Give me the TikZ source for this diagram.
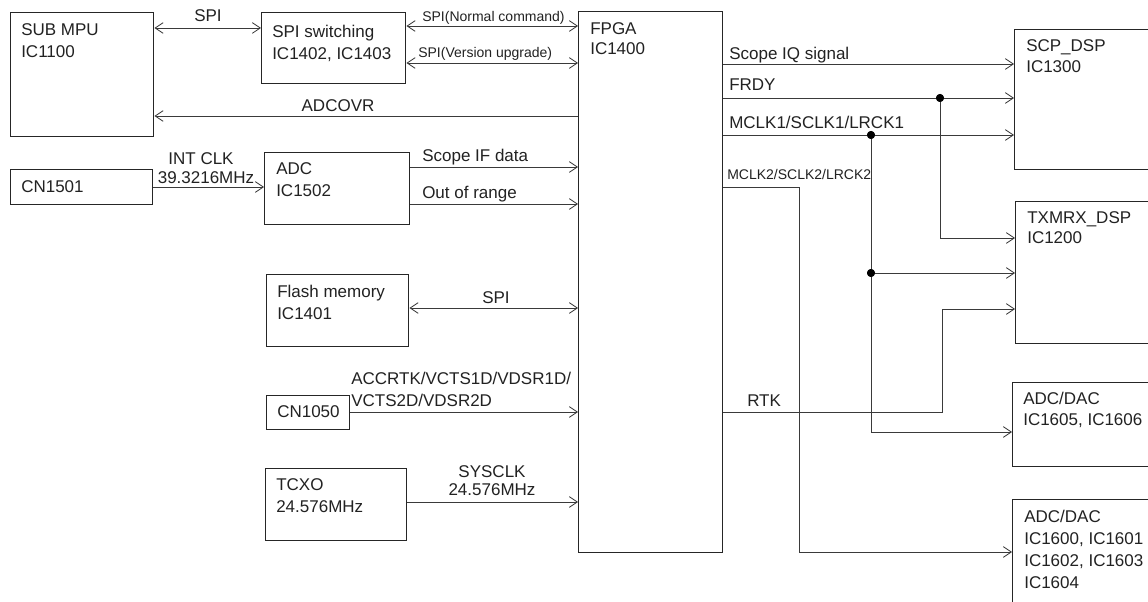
\documentclass[tikz,border=0pt]{standalone}
\usepackage{fontspec}
\setmainfont{Liberation Sans}
\usetikzlibrary{arrows.meta}
\definecolor{ink}{HTML}{222222}
\definecolor{wirec}{HTML}{3A3A3A}
\begin{document}
\begin{tikzpicture}[x=0.75pt,y=-0.75pt,
 box/.style={draw=black!85, line width=1.1pt, rectangle, inner sep=0pt, anchor=north west},
 txt/.style={text=ink, inner sep=0pt, font=\fontsize{12.75}{16.5}\selectfont, align=left, anchor=north west},
 lbl/.style={text=ink, inner sep=0pt, font=\fontsize{12.75}{16.5}\selectfont},
 sml/.style={text=ink, inner sep=0pt, font=\fontsize{10.5}{13}\selectfont},
 wire/.style={draw=wirec, line width=0.6pt},
 sarrow/.style={wire, -{Straight Barb[length=6pt,width=8pt]}},
 barrow/.style={wire, {Straight Barb[length=6pt,width=8pt]}-{Straight Barb[length=6pt,width=8pt]}},
 dot/.style={circle, fill=black, inner sep=0pt, minimum size=6pt}]
\fill[white] (0,0) rectangle (1148,602);
\useasboundingbox (0,0) rectangle (1148,602);
\clip (0,0) rectangle (1148,602);

% boxes
\node[box, minimum width=107.25pt, minimum height=93pt] (mpu) at (10,12) {};
\node[box, minimum width=108pt, minimum height=53.25pt] (spisw) at (261,12) {};
\node[box, minimum width=108pt, minimum height=405.75pt] (fpga) at (578,11) {};
\node[box, minimum width=106.5pt, minimum height=26.25pt] (cn1501) at (10,169) {};
\node[box, minimum width=108.75pt, minimum height=54pt] (adc) at (264,152) {};
\node[box, minimum width=106.5pt, minimum height=54pt] (flash) at (266,274) {};
\node[box, minimum width=62.25pt, minimum height=25.5pt] (cn1050) at (266,395) {};
\node[box, minimum width=105.75pt, minimum height=54pt] (tcxo) at (265,468) {};
\node[box, minimum width=150pt, minimum height=105pt] (scp) at (1014,29) {};
\node[box, minimum width=150pt, minimum height=106.5pt] (txmrx) at (1015,201) {};
\node[box, minimum width=150pt, minimum height=63pt] (adcdac1) at (1012,382) {};
\node[box, minimum width=150pt, minimum height=150pt] (adcdac2) at (1012,499) {};

% box texts
\node[txt] (mpuT) at (21,23) {SUB MPU\\IC1100};
\node[txt] (spiswT) at (272,25) {SPI switching\\IC1402, IC1403};
\node[txt, font=\fontsize{12.75}{15}\selectfont] (fpgaT) at (590,22) {FPGA\\IC1400};
\node[txt] (cn1501T) at (21,180) {CN1501};
\node[txt] (adcT) at (276,162) {ADC\\IC1502};
\node[txt] (flashT) at (277,285) {Flash memory\\IC1401};
\node[txt] (cn1050T) at (277,405) {CN1050};
\node[txt] (tcxoT) at (276,478) {TCXO\\24.576MHz};
\node[txt, font=\fontsize{12.75}{15.75}\selectfont] (scpT) at (1026,39) {SCP\_DSP\\IC1300};
\node[txt, font=\fontsize{12.75}{15}\selectfont] (txmrxT) at (1027,211) {TXMRX\_DSP\\IC1200};
\node[txt, font=\fontsize{12.75}{15.75}\selectfont] (adcdac1T) at (1023,392) {ADC/DAC\\IC1605, IC1606};
\node[txt] (adcdac2T) at (1024,510) {ADC/DAC\\IC1600, IC1601\\IC1602, IC1603\\IC1604};

% y levels
\coordinate (ySPI) at (0,28);
\coordinate (yNorm) at (0,26);
\coordinate (yVer) at (0,63);
\coordinate (yADCOVR) at (0,116);
\coordinate (yINT) at (0,187);
\coordinate (ySIF) at (0,167);
\coordinate (yOOR) at (0,204);
\coordinate (yFSPI) at (0,308);
\coordinate (yACC) at (0,412);
\coordinate (ySYS) at (0,502);
\coordinate (yIQ) at (0,64);
\coordinate (yFRDY) at (0,98);
\coordinate (yM1) at (0,135);
\coordinate (yFRDYb) at (0,238);
\coordinate (yM1b) at (0,432);
\coordinate (yM2b) at (0,552);
\coordinate (yRTKb) at (0,309);
\coordinate (m2) at (799,187);
\coordinate (rtk) at (942,412);

% left side connectors
\draw[barrow] (mpu.east |- ySPI) -- (spisw.west |- ySPI);
\draw[barrow] (spisw.east |- yNorm) -- (fpga.west |- yNorm);
\draw[barrow] (spisw.east |- yVer) -- (fpga.west |- yVer);
\draw[sarrow] (fpga.west |- yADCOVR) -- (mpu.east |- yADCOVR);
\draw[sarrow] (cn1501.east |- yINT) -- (adc.west |- yINT);
\draw[sarrow] (adc.east |- ySIF) -- (fpga.west |- ySIF);
\draw[sarrow] (adc.east |- yOOR) -- (fpga.west |- yOOR);
\draw[barrow] (flash.east |- yFSPI) -- (fpga.west |- yFSPI);
\draw[sarrow] (cn1050.east |- yACC) -- (fpga.west |- yACC);
\draw[sarrow] (tcxo.east |- ySYS) -- (fpga.west |- ySYS);

% right side connectors
\node[dot] (d1) at (940,98) {};
\node[dot] (d2) at (871,135) {};
\node[dot] (d3) at (871,273) {};
\draw[sarrow] (fpga.east |- yIQ) -- (scp.west |- yIQ);
\draw[sarrow] (fpga.east |- yFRDY) -- (scp.west |- yFRDY);
\draw[sarrow] (fpga.east |- yM1) -- (scp.west |- yM1);
\draw[sarrow] (d1.center) |- (txmrx.west |- yFRDYb);
\draw[wire] (d2.center) -- (d3.center);
\draw[sarrow] (d3.center) -- (txmrx.west |- d3);
\draw[sarrow] (d3.center) |- (adcdac1.west |- yM1b);
\draw[sarrow] (fpga.east |- m2) -- (m2) |- (adcdac2.west |- yM2b);
\draw[sarrow] (fpga.east |- rtk) -- (rtk) |- (txmrx.west |- yRTKb);
\node[dot] at (d1) {};
\node[dot] at (d2) {};
\node[dot] at (d3) {};

% connector labels
\node[lbl, anchor=base] (lSPI) at (208,22) {SPI};
\node[sml, anchor=base west] (lNorm) at (422,22) {SPI(Normal command)};
\node[sml, anchor=base west] (lVer) at (418,58) {SPI(Version upgrade)};
\node[lbl, anchor=base] (lADCOVR) at (338,112) {ADCOVR};
\node[lbl, anchor=base] (lINT) at (201,165) {INT CLK};
\node[lbl, anchor=base] (lMHz) at (206,184) {39.3216MHz};
\node[lbl, anchor=base west] (lSIF) at (422,162) {Scope IF data};
\node[lbl, anchor=base west] (lOOR) at (422,199) {Out of range};
\node[lbl, anchor=base] (lFSPI) at (496,303) {SPI};
\node[txt] (lACC) at (351,372) {ACCRTK/VCTS1D/VDSR1D/\\VCTS2D/VDSR2D};
\node[lbl, anchor=base] (lSYS) at (492,477) {SYSCLK};
\node[lbl, anchor=base] (lSYS2) at (492,495) {24.576MHz};
\node[lbl, anchor=base west] (lIQ) at (729,60) {Scope IQ signal};
\node[lbl, anchor=base west] (lFRDY) at (729,91) {FRDY};
\node[lbl, anchor=base west] (lM1) at (729,129) {MCLK1/SCLK1/LRCK1};
\node[sml, anchor=base west] (lM2) at (727,180) {MCLK2/SCLK2/LRCK2};
\node[lbl, anchor=base west] (lRTK) at (747,406) {RTK};
\end{tikzpicture}
\end{document}
